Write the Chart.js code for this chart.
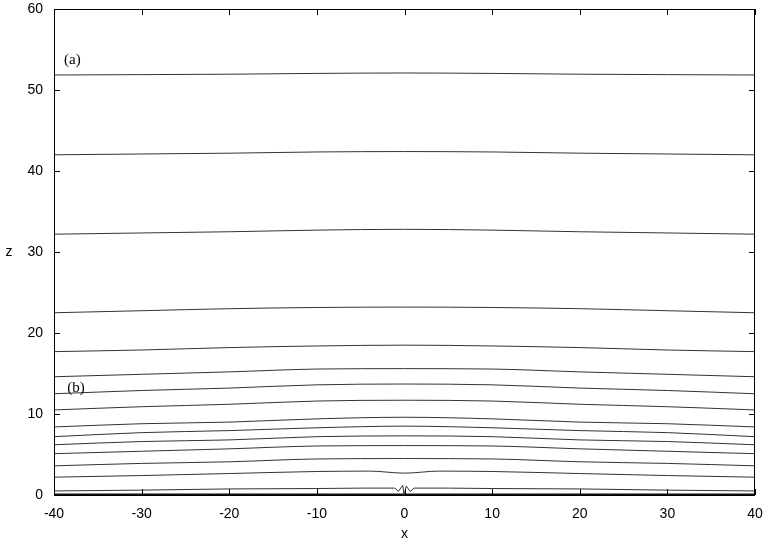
<!DOCTYPE html>
<html>
<head>
<meta charset="utf-8">
<script src="https://cdn.jsdelivr.net/npm/chart.js@4"></script>
<style>
html,body{margin:0;padding:0;background:#fff;}
#wrap{width:763px;height:543px;position:relative;}
</style>
</head>
<body>
<div id="wrap"><canvas id="c" width="763" height="543"></canvas></div>
<script>
// x positions (shared by the smooth contour lines)
const xs = [-40, -30, -20, -10, 0, 10, 20, 30, 40];
// contour heights z(x)
const zA  = [51.85, 51.9, 51.95, 52.05, 52.1, 52.05, 51.95, 51.9, 51.85];
const zB  = [42.0, 42.1, 42.2, 42.35, 42.4, 42.35, 42.2, 42.1, 42.0];
const zC  = [32.2, 32.35, 32.5, 32.7, 32.8, 32.7, 32.5, 32.35, 32.2];
const zD  = [22.5, 22.75, 23.0, 23.15, 23.2, 23.15, 23.0, 22.75, 22.5];
const zE  = [17.7, 17.9, 18.2, 18.4, 18.5, 18.4, 18.2, 17.9, 17.7];
const zF  = [14.6, 14.9, 15.2, 15.55, 15.6, 15.55, 15.2, 14.9, 14.6];
const zG  = [12.5, 12.9, 13.2, 13.6, 13.7, 13.6, 13.2, 12.9, 12.5];
const zH  = [10.5, 10.9, 11.2, 11.6, 11.7, 11.6, 11.2, 10.9, 10.5];
const zI  = [8.4, 8.8, 9.0, 9.4, 9.6, 9.4, 9.0, 8.8, 8.4];
const zJ  = [7.2, 7.7, 7.95, 8.3, 8.5, 8.3, 7.95, 7.7, 7.2];
const zK  = [6.2, 6.6, 6.8, 7.2, 7.3, 7.2, 6.8, 6.6, 6.2];
const zL  = [5.1, 5.4, 5.7, 6.05, 6.1, 6.05, 5.7, 5.4, 5.1];
const zM  = [3.6, 3.9, 4.1, 4.45, 4.5, 4.45, 4.1, 3.9, 3.6];
const zBase = [0.1, 0.1, 0.1, 0.1, 0.1, 0.1, 0.1, 0.1, 0.1];
// contour with a small dip at the centre
const xN = [-40, -30, -20, -10, -4, 0, 4, 10, 20, 30, 40];
const zN = [2.2, 2.4, 2.65, 2.9, 2.95, 2.7, 2.95, 2.9, 2.65, 2.4, 2.2];
// lowest contour with a cusp at x = 0
const xO = [-40, -30, -20, -10, -5, -1.1, -0.7, -0.2, -0.05, 0.05, 0.2, 0.65, 1.1, 5, 10, 20, 30, 40];
const zO = [0.5, 0.6, 0.75, 0.8, 0.85, 0.85, 0.45, 1.2, 0, 0, 1.1, 0.45, 0.85, 0.85, 0.8, 0.75, 0.6, 0.5];

// tick values
const xTicks = [-40, -30, -20, -10, 0, 10, 20, 30, 40];
const zTicks = [0, 10, 20, 30, 40, 50, 60];

// annotations
const noteText = ['(a)', '(b)'];
const noteX = [-38.85, -38.5];
const noteZ = [53.7, 13.2];

const lineColor = '#333';
const pts = (x, z) => x.map((v, i) => ({x: v, y: z[i]}));
const smooth = [zA, zB, zC, zD, zE, zF, zG, zH, zI, zJ, zK, zL, zM];
const datasets = smooth.map(z => ({
  data: pts(xs, z), borderColor: lineColor, borderWidth: 1, pointRadius: 0,
  cubicInterpolationMode: 'monotone', fill: false
}));
datasets.push({data: pts(xN, zN), borderColor: lineColor, borderWidth: 1, pointRadius: 0, cubicInterpolationMode: 'monotone', fill: false});
datasets.push({data: pts(xO, zO), borderColor: lineColor, borderWidth: 1, pointRadius: 0, tension: 0, fill: false});
datasets.push({data: pts(xs, zBase), borderColor: '#111', borderWidth: 1.5, pointRadius: 0, tension: 0, fill: false});

const frame = {
  id: 'frame',
  afterDatasetsDraw(chart) {
    const {ctx, chartArea: a, scales} = chart;
    ctx.save();
    ctx.strokeStyle = '#000';
    ctx.lineWidth = 1;
    ctx.strokeRect(a.left + 0.5, a.top + 0.5, a.right - a.left - 1, a.bottom - a.top);
    ctx.beginPath();
    const tl = 6;
    xTicks.forEach(v => {
      const px = Math.round(scales.x.getPixelForValue(v)) + 0.5;
      ctx.moveTo(px, a.bottom); ctx.lineTo(px, a.bottom - tl);
      ctx.moveTo(px, a.top); ctx.lineTo(px, a.top + tl);
    });
    zTicks.forEach(v => {
      const py = Math.round(scales.y.getPixelForValue(v)) + 0.5;
      ctx.moveTo(a.left, py); ctx.lineTo(a.left + tl, py);
      ctx.moveTo(a.right, py); ctx.lineTo(a.right - tl, py);
    });
    ctx.stroke();
    // annotations
    ctx.fillStyle = '#000';
    ctx.font = '15px "Liberation Serif", serif';
    ctx.textAlign = 'left';
    ctx.textBaseline = 'middle';
    noteText.forEach((t, i) => {
      ctx.fillText(t, scales.x.getPixelForValue(noteX[i]), scales.y.getPixelForValue(noteZ[i]));
    });
    // y axis title (upright)
    ctx.font = '14px "Liberation Sans", Arial, sans-serif';
    ctx.textAlign = 'center';
    ctx.fillText('z', 9, (a.top + a.bottom) / 2);
    ctx.restore();
  }
};

new Chart(document.getElementById('c'), {
  type: 'line',
  data: {datasets},
  options: {
    responsive: false,
    animation: false,
    events: [],
    layout: {padding: {left: 0, right: 8, top: 9, bottom: 0}},
    plugins: {legend: {display: false}, tooltip: {enabled: false}},
    scales: {
      x: {
        type: 'linear', min: -40, max: 40,
        afterFit: s => { s.height = 48; s.paddingLeft = 0; s.paddingRight = 0; },
        afterBuildTicks: s => { s.ticks = xTicks.map(v => ({value: v})); },
        grid: {display: false, drawTicks: false},
        border: {display: false},
        ticks: {color: '#000', padding: 11, maxRotation: 0, font: {family: '"Liberation Sans", Arial, sans-serif', size: 14}},
        title: {display: true, text: 'x', color: '#000', padding: {top: 0, bottom: 0}, font: {family: '"Liberation Sans", Arial, sans-serif', size: 14}}
      },
      y: {
        type: 'linear', min: 0, max: 60,
        afterFit: s => { s.width = 54; s.paddingTop = 0; s.paddingBottom = 0; },
        afterBuildTicks: s => { s.ticks = zTicks.map(v => ({value: v})); },
        grid: {display: false, drawTicks: false},
        border: {display: false},
        ticks: {color: '#000', padding: 11, font: {family: '"Liberation Sans", Arial, sans-serif', size: 14}}
      }
    }
  },
  plugins: [frame]
});
</script>
</body>
</html>
